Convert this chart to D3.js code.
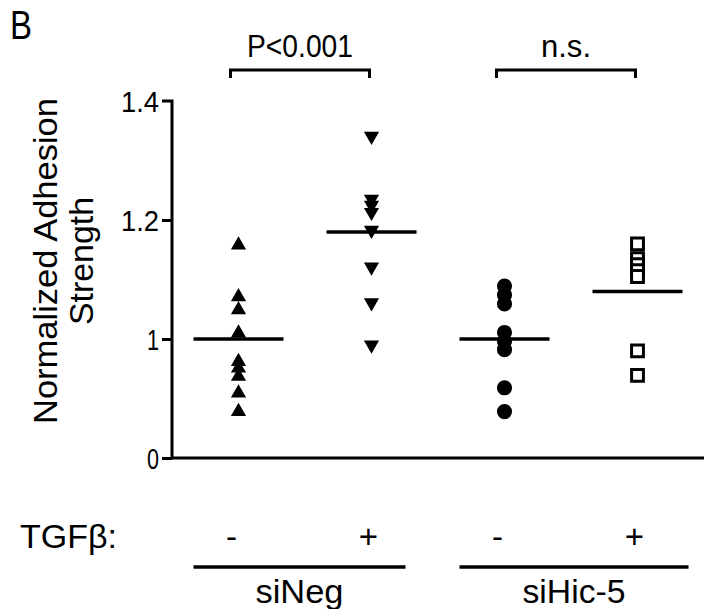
<!DOCTYPE html>
<html><head><meta charset="utf-8">
<script src="https://cdn.jsdelivr.net/npm/d3@7"></script>
<style>
html,body{margin:0;padding:0;background:#fff;}
text{font-family:"Liberation Sans",Arial,Helvetica,sans-serif;fill:#000;}
</style></head>
<body>
<svg id="chart" width="714" height="609"></svg>
<script>
// ---- data ----
const categories = ["siNeg -", "siNeg +", "siHic-5 -", "siHic-5 +"];
const tgfLabels = ["-", "+", "-", "+"];
const groupLabels = ["siNeg", "siHic-5"];
const siNegMinus = [1.158, 1.071, 1.049, 1.010, 0.962, 0.951, 0.937, 0.909, 0.878];
const siNegPlus  = [1.341, 1.235, 1.225, 1.213, 1.183, 1.121, 1.061, 0.990];
const siHicMinus = [1.089, 1.074, 1.059, 1.011, 0.996, 0.982, 0.918, 0.878];
const siHicPlus  = [1.160, 1.135, 1.125, 1.115, 1.105, 0.980, 0.939];
const means = [1.0, 1.18, 1.0, 1.08];
const tickValues = [0.8, 1.0, 1.2, 1.4];
const tickLabels = ["0", "1", "1.2", "1.4"];
const significance = ["P<0.001", "n.s."];

const series = [siNegMinus, siNegPlus, siHicMinus, siHicPlus];
const svg = d3.select("#chart");

const x = d3.scaleBand().domain(categories).range([172, 704]);
const y = d3.scaleLinear().domain([0.8, 1.4]).range([458, 101]);
const cx = c => x(c) + x.bandwidth() / 2;

// axes
const yAxis = d3.axisLeft(y).tickValues(tickValues)
  .tickFormat((d, i) => tickLabels[i]).tickSize(10).tickPadding(3);
const gy = svg.append("g").attr("transform", "translate(172,0)").call(yAxis);
gy.select(".domain").attr("d", `M-10,${y(1.4)}H0V${y(0.8)}`).attr("stroke", "#000").attr("stroke-width", 3).attr("fill","none");
gy.selectAll(".tick line").attr("stroke", "#000").attr("stroke-width", 3);
gy.selectAll(".tick text").style("font-size", "29px").attr("dy", "0.36em")
  .attr("textLength", (d, i) => [12, 12, 38, 38][i]).attr("lengthAdjust", "spacingAndGlyphs");
gy.selectAll(".tick").filter(d => d === 1.4).select("line").remove();

const xAxis = d3.axisBottom(x).tickSize(0).tickFormat("");
const gx = svg.append("g").attr("transform", `translate(0,${y(0.8)})`).call(xAxis);
gx.select(".domain").attr("d", `M172,0H704`).attr("stroke", "#000").attr("stroke-width", 3);

// points
const symTri = d3.symbol().type(d3.symbolTriangle).size(100);
const symCirc = d3.symbol().type(d3.symbolCircle).size(180);
const symSq = d3.symbol().type(d3.symbolSquare).size(140);
series.forEach((vals, i) => {
  const c = categories[i];
  const g = svg.append("g");
  vals.forEach(v => {
    if (i === 0) g.append("path").attr("d", symTri()).attr("fill", "#000")
      .attr("transform", `translate(${cx(c)},${y(v)})`);
    else if (i === 1) g.append("path").attr("d", symTri()).attr("fill", "#000")
      .attr("transform", `translate(${cx(c)},${y(v)}) rotate(180)`);
    else if (i === 2) g.append("path").attr("d", symCirc()).attr("fill", "#000")
      .attr("transform", `translate(${cx(c)},${y(v)})`);
    else g.append("path").attr("d", symSq()).attr("fill", "#fff").attr("stroke", "#000").attr("stroke-width", 3)
      .attr("transform", `translate(${cx(c)},${y(v)})`);
  });
});

// mean lines
svg.append("g").selectAll("line").data(means).join("line")
  .attr("x1", (d, i) => cx(categories[i]) - 45)
  .attr("x2", (d, i) => cx(categories[i]) + 45)
  .attr("y1", d => y(d)).attr("y2", d => y(d))
  .attr("stroke", "#000").attr("stroke-width", 3.5);

// significance brackets
[[0, 1], [2, 3]].forEach((pair, k) => {
  const x1 = cx(categories[pair[0]]) - 8, x2 = cx(categories[pair[1]]) - 2;
  svg.append("path").attr("d", `M${x1},78V70H${x2}V78`)
    .attr("fill", "none").attr("stroke", "#000").attr("stroke-width", 3);
  svg.append("text").attr("x", (x1 + x2) / 2).attr("y", 57).attr("text-anchor", "middle")
    .style("font-size", "32px")
    .attr("textLength", k === 0 ? 106 : 50).attr("lengthAdjust", "spacingAndGlyphs")
    .text(significance[k]);
});

// panel letter
svg.append("text").attr("x", 10).attr("y", 39).style("font-size", "40px")
  .attr("textLength", 22).attr("lengthAdjust", "spacingAndGlyphs").text("B");

// y title
const yt = svg.append("text").attr("transform", "translate(57,261) rotate(-90)")
  .attr("text-anchor", "middle").style("font-size", "33px");
yt.append("tspan").attr("x", 0).attr("dy", 0)
  .attr("textLength", 326).attr("lengthAdjust", "spacingAndGlyphs").text("Normalized Adhesion");
yt.append("tspan").attr("x", 0).attr("dy", "1.1em")
  .attr("textLength", 128).attr("lengthAdjust", "spacingAndGlyphs").text("Strength");

// TGF row
svg.append("text").attr("x", 20).attr("y", 548).style("font-size", "33px")
  .attr("textLength", 97).attr("lengthAdjust", "spacingAndGlyphs").text("TGFβ:");
svg.append("g").selectAll("text").data(tgfLabels).join("text")
  .attr("x", (d, i) => cx(categories[i]) - (d === "-" ? 7 : 3))
  .attr("y", 548).attr("text-anchor", "middle").style("font-size", "33px").text(d => d);

// group underlines and labels
const groupSpans = [[categories[0], categories[1]], [categories[2], categories[3]]];
groupSpans.forEach((s, k) => {
  const a = cx(s[0]) - 45, b = cx(s[1]) + (k === 0 ? 34 : 51);
  svg.append("line").attr("x1", a).attr("x2", b).attr("y1", 567).attr("y2", 567)
    .attr("stroke", "#000").attr("stroke-width", 3.5);
  svg.append("text").attr("x", (a + b) / 2).attr("y", 603).attr("text-anchor", "middle")
    .style("font-size", "33px")
    .attr("textLength", k === 0 ? 88 : 103).attr("lengthAdjust", "spacingAndGlyphs")
    .text(groupLabels[k]);
});
</script>
</body></html>
